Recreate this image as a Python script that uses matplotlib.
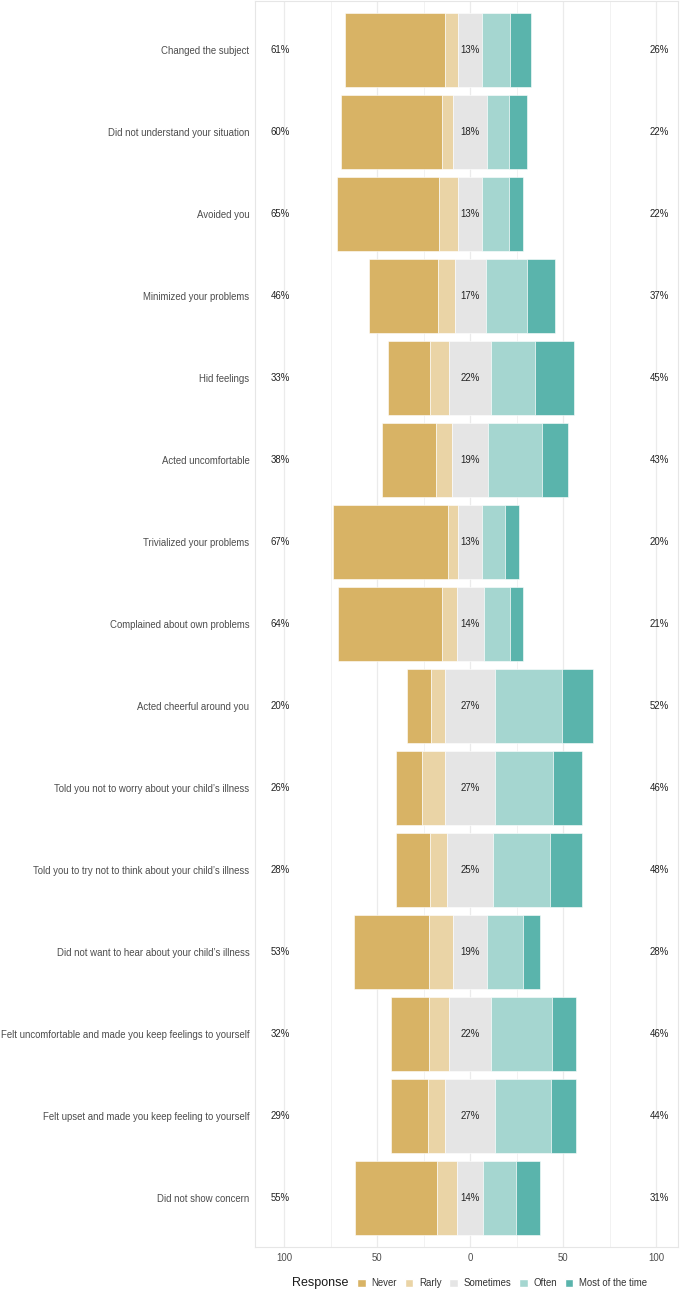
import numpy as np
from matplotlib import pyplot as plt
from matplotlib.patches import Patch

domande = [
    "Changed the subject",
    "Did not understand your situation",
    "Avoided you",
    "Minimized your problems",
    "Hid feelings",
    "Acted uncomfortable",
    "Trivialized your problems",
    "Complained about own problems",
    "Acted cheerful around you",
    "Told you not to worry about your child\u2019s illness",
    "Told you to try not to think about your child\u2019s illness",
    "Did not want to hear about your child\u2019s illness",
    "Felt uncomfortable and made you keep feelings to yourself",
    "Felt upset and made you keep feeling to yourself",
    "Did not show concern",
]
risposte = ["Never", "Rarly", "Sometimes", "Often", "Most of the time"]

# percentuali (una lista per livello di risposta)
never     = [53.8, 54.1, 54.8, 36.9, 22.2, 29.2, 61.5, 56.1, 12.8, 14.2, 18.5, 40.2, 20.9, 19.7, 44.3]
rarly     = [6.8, 6.1, 10.1, 9.2, 10.6, 8.4, 5.4, 8.0, 7.5, 12.2, 9.1, 12.9, 10.8, 9.2, 10.7]
sometimes = [13.2, 18.0, 13.2, 16.6, 22.3, 19.4, 13.2, 14.4, 27.2, 27.2, 24.8, 18.6, 22.2, 27.2, 14.0]
often     = [15.1, 12.0, 14.4, 22.4, 24.0, 29.0, 12.4, 14.4, 35.7, 31.0, 30.4, 19.0, 33.2, 29.8, 17.9]
most      = [11.1, 9.6, 7.5, 15.0, 20.8, 13.8, 7.5, 6.8, 16.6, 15.3, 17.2, 9.4, 12.5, 13.8, 12.9]

colori = ["#D8B365", "#EAD4A6", "#E5E5E5", "#A5D6D0", "#5AB4AC"]

never = np.array(never)
rarly = np.array(rarly)
sometimes = np.array(sometimes)
often = np.array(often)
most = np.array(most)

n = len(domande)
y = np.arange(n, 0, -1)
altezza = 0.9
fs = 6.9

plt.rcParams['font.family'] = ['Liberation Sans', 'DejaVu Sans']

fig = plt.figure(figsize=(6.85, 12.92), dpi=100)
ax = fig.add_axes([255 / 685, 45 / 1292, 423 / 685, 1246 / 1292])

# griglia verticale leggera
for xg in range(-100, 101, 25):
    lw = 0.9 if xg % 50 == 0 else 0.45
    ax.axvline(xg, color="#EBEBEB", lw=lw, zorder=0)

# parte sinistra: never, rarly e metà di sometimes
mezzo = sometimes / 2
larghezze = [never, rarly, sometimes, often, most]
inizi = [-(never + rarly + mezzo), -(rarly + mezzo), -mezzo, mezzo, mezzo + often]
for i in range(5):
    ax.barh(y, larghezze[i], left=inizi[i], height=altezza, color=colori[i],
            edgecolor="white", linewidth=0.4, zorder=2)

for i in range(n):
    ax.text(-102.2, y[i], f"{round(never[i] + rarly[i])}%", ha="center", va="center",
            fontsize=fs, color="#222222")
    ax.text(0, y[i], f"{round(sometimes[i])}%", ha="center", va="center",
            fontsize=fs, color="#222222", zorder=3)
    ax.text(101.6, y[i], f"{round(often[i] + most[i])}%", ha="center", va="center",
            fontsize=fs, color="#222222")

ax.set_xlim(-115.7, 111.8)
ax.set_ylim(0.4, n + 0.6)
ax.set_yticks(y)
ax.set_yticklabels(domande, fontsize=fs, color="#4D4D4D")
ax.set_xticks([-100, -50, 0, 50, 100])
ax.set_xticklabels(["100", "50", "0", "50", "100"], fontsize=fs, color="#4D4D4D")
ax.tick_params(length=0, pad=4)
for lato in ax.spines.values():
    lato.set_color("#E6E6E6")
    lato.set_linewidth(0.8)

maniglie = [Patch(facecolor=colori[i], edgecolor="white", label=risposte[i]) for i in range(5)]
fig.legend(handles=maniglie, loc="center", bbox_to_anchor=(502 / 685, 1 - 1283 / 1292),
           ncol=5, frameon=False, fontsize=fs, handlelength=0.9, handleheight=0.9,
           handletextpad=0.6, columnspacing=0.8, labelcolor="#333333")
fig.text(320 / 685, 1 - 1283 / 1292, "Response", ha="center", va="center",
         fontsize=9.0, color="#1A1A1A")

fig.savefig("out.png", dpi=100)
